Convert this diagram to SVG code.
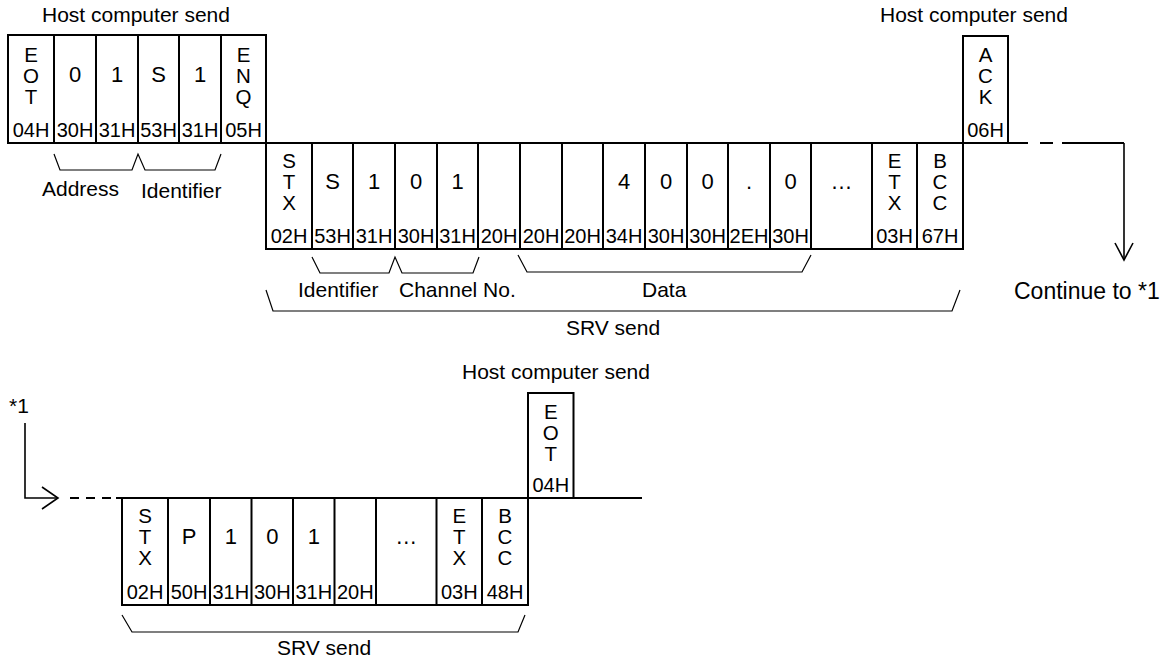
<svg xmlns="http://www.w3.org/2000/svg" width="1167" height="661" viewBox="0 0 1167 661">
<style>
text{font-family:"Liberation Sans",Arial,sans-serif;fill:#000}
.s{font-size:20.5px;text-anchor:middle}
.c{font-size:22px;text-anchor:middle}
.h{font-size:20px;text-anchor:middle}
.t{font-size:21px}
.l{font-size:21px}
.m{text-anchor:middle}
.box{fill:#fff;stroke:#000;stroke-width:2}
.div{stroke:#000;stroke-width:2;fill:none}
.br{stroke:#000;stroke-width:1.2;fill:none}
.ln{stroke:#000;stroke-width:1.6;fill:none}
</style>
<rect width="1167" height="661" fill="#fff"/>

<g id="labels">
<text class="t" x="42" y="22">Host computer send</text>
<text class="t" x="880" y="22">Host computer send</text>
<text class="t" x="462" y="379">Host computer send</text>
<text class="l" x="42" y="196">Address</text>
<text class="l" x="141" y="198">Identifier</text>
<text class="l" x="298" y="297">Identifier</text>
<text class="l" x="399" y="297">Channel No.</text>
<text class="l" x="642" y="297">Data</text>
<text class="l m" x="613" y="335">SRV send</text>
<text class="l m" x="324" y="655">SRV send</text>
<text class="l" x="1014" y="299" style="font-size:23px">Continue to *1</text>
<text class="l" x="9" y="413">*1</text>
</g>

<g id="connectors">
<path class="div" d="M8 143 H1008"/>
<path class="div" d="M1008 143 H1028 M1040 143 H1053 M1062 143 H1124"/>
<path class="ln" d="M1124 143 V260"/>
<path class="ln" d="M1115 243 L1124 260 L1133 243"/>
<path class="ln" d="M25 423 V498 H58"/>
<path class="ln" d="M42 487 L58 498 L42 509"/>
<path class="div" d="M70 498 H79 M86 498 H95 M102 498 H111 M116 498 H122"/>
<path class="div" d="M122 498 H642"/>
<path class="br" d="M54 154 L60 170 H132 L138 154 L145 170 H215 L221 154"/>
<path class="br" d="M312 257 L320 273 H389 L395 257 L402 273 H473 L479 257"/>
<path class="br" d="M518 255 L527 272 H802 L811 255"/>
<path class="br" d="M266 290 L273 311 H952 L960 290"/>
<path class="br" d="M122 615 L132 632 H518 L525 615"/>
</g>

<g id="frame-enq">
<rect class="box" x="8" y="35" width="258" height="108"/>
<path class="div" d="M54 35V143 M96 35V143 M138 35V143 M179 35V143 M221 35V143"/>
<text class="s" x="31" y="62">E<tspan x="31" dy="21">O</tspan><tspan x="31" dy="21">T</tspan></text>
<text class="c" x="75" y="82">0</text>
<text class="c" x="117" y="82">1</text>
<text class="c" x="158.5" y="82">S</text>
<text class="c" x="200" y="82">1</text>
<text class="s" x="243.5" y="62">E<tspan x="243.5" dy="21">N</tspan><tspan x="243.5" dy="21">Q</tspan></text>
<text class="h" x="31" y="137">04H</text>
<text class="h" x="75" y="137">30H</text>
<text class="h" x="117" y="137">31H</text>
<text class="h" x="158.5" y="137">53H</text>
<text class="h" x="200" y="137">31H</text>
<text class="h" x="243.5" y="137">05H</text>
</g>

<g id="frame-data">
<rect class="box" x="266" y="143" width="697" height="106"/>
<path class="div" d="M312 143V249 M353 143V249 M395 143V249 M437 143V249 M478 143V249 M520 143V249 M562 143V249 M603 143V249 M645 143V249 M687 143V249 M728 143V249 M770 143V249 M811 143V249 M872 143V249 M917 143V249"/>
<text class="s" x="289" y="168">S<tspan x="289" dy="21">T</tspan><tspan x="289" dy="21">X</tspan></text>
<text class="c" x="332.5" y="189">S</text>
<text class="c" x="374" y="189">1</text>
<text class="c" x="416" y="189">0</text>
<text class="c" x="457.5" y="189">1</text>
<text class="c" x="624" y="189">4</text>
<text class="c" x="666" y="189">0</text>
<text class="c" x="707.5" y="189">0</text>
<text class="c" x="749" y="189">.</text>
<text class="c" x="790.5" y="189">0</text>
<text class="c" x="841.5" y="189">…</text>
<text class="s" x="894.5" y="168">E<tspan x="894.5" dy="21">T</tspan><tspan x="894.5" dy="21">X</tspan></text>
<text class="s" x="940" y="168">B<tspan x="940" dy="21">C</tspan><tspan x="940" dy="21">C</tspan></text>
<text class="h" x="289" y="243">02H</text>
<text class="h" x="332.5" y="243">53H</text>
<text class="h" x="374" y="243">31H</text>
<text class="h" x="416" y="243">30H</text>
<text class="h" x="457.5" y="243">31H</text>
<text class="h" x="499" y="243">20H</text>
<text class="h" x="541" y="243">20H</text>
<text class="h" x="582.5" y="243">20H</text>
<text class="h" x="624" y="243">34H</text>
<text class="h" x="666" y="243">30H</text>
<text class="h" x="707.5" y="243">30H</text>
<text class="h" x="749" y="243">2EH</text>
<text class="h" x="790.5" y="243">30H</text>
<text class="h" x="894.5" y="243">03H</text>
<text class="h" x="940" y="243">67H</text>
</g>

<g id="frame-ack">
<rect class="box" x="963" y="36" width="45" height="107"/>
<text class="s" x="985.5" y="62">A<tspan x="985.5" dy="21">C</tspan><tspan x="985.5" dy="21">K</tspan></text>
<text class="h" x="985.5" y="137">06H</text>
</g>

<g id="frame-poll">
<rect class="box" x="122" y="498" width="406" height="107"/>
<path class="div" d="M168 498V605 M210 498V605 M251.5 498V605 M293 498V605 M334.5 498V605 M376 498V605 M436.5 498V605 M482 498V605"/>
<text class="s" x="145" y="523">S<tspan x="145" dy="21">T</tspan><tspan x="145" dy="21">X</tspan></text>
<text class="c" x="189" y="544">P</text>
<text class="c" x="230.75" y="544">1</text>
<text class="c" x="272.25" y="544">0</text>
<text class="c" x="313.75" y="544">1</text>
<text class="c" x="406.25" y="544">…</text>
<text class="s" x="459.25" y="523">E<tspan x="459.25" dy="21">T</tspan><tspan x="459.25" dy="21">X</tspan></text>
<text class="s" x="505" y="523">B<tspan x="505" dy="21">C</tspan><tspan x="505" dy="21">C</tspan></text>
<text class="h" x="145" y="599">02H</text>
<text class="h" x="189" y="599">50H</text>
<text class="h" x="230.75" y="599">31H</text>
<text class="h" x="272.25" y="599">30H</text>
<text class="h" x="313.75" y="599">31H</text>
<text class="h" x="355.25" y="599">20H</text>
<text class="h" x="459.25" y="599">03H</text>
<text class="h" x="505" y="599">48H</text>
</g>

<g id="frame-eot">
<rect class="box" x="528" y="393" width="45.5" height="105"/>
<text class="s" x="550.75" y="419">E<tspan x="550.75" dy="21">O</tspan><tspan x="550.75" dy="21">T</tspan></text>
<text class="h" x="550.75" y="492">04H</text>
</g>
</svg>
